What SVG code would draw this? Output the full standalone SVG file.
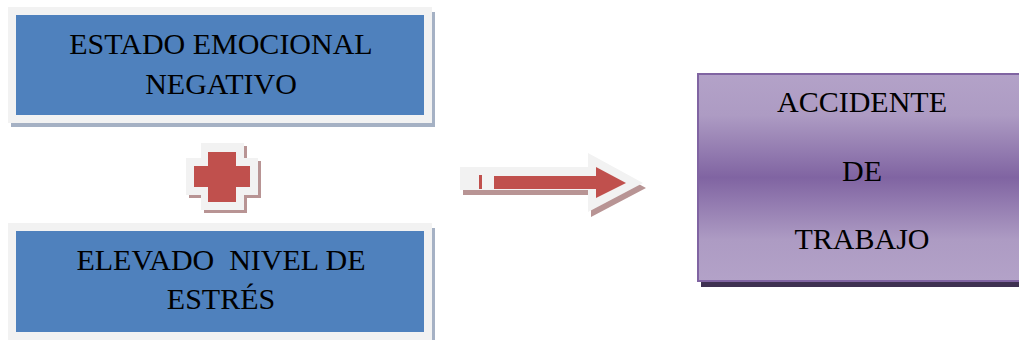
<svg xmlns="http://www.w3.org/2000/svg" width="1019" height="340" viewBox="0 0 1019 340">
<defs>
<linearGradient id="purp" x1="0" y1="0" x2="0" y2="1">
<stop offset="0" stop-color="#b3a2c8"/>
<stop offset="0.2" stop-color="#ad9bc3"/>
<stop offset="0.5" stop-color="#8064a2"/>
<stop offset="0.8" stop-color="#ad9bc3"/>
<stop offset="1" stop-color="#b3a2c8"/>
</linearGradient>
</defs>
<style>
.lbl{font-family:"Liberation Serif","Times New Roman",serif;font-size:30px;fill:#000;text-anchor:middle;white-space:pre}
.frame{fill:#f2f2f2}
.blue{fill:#4f81bd}
.bshadow{fill:#a5b1c4}
.red{fill:#c0504d}
.rshadow{fill:#b89494}
</style>
<g id="estado">
<rect class="bshadow" x="11" y="12" width="424" height="115"/>
<rect class="frame" x="8" y="7" width="424" height="116"/>
<rect class="blue" x="16" y="15" width="408" height="100"/>
<text class="lbl" x="221" y="54">ESTADO EMOCIONAL</text>
<text class="lbl" x="221" y="94">NEGATIVO</text>
</g>
<g id="plus">
<path class="rshadow" d="M204 146H247V161H261V198H247V213H204V198H189V161H204Z"/>
<path class="frame" d="M201 143H244V158H258V195H244V210H201V195H186V158H201Z"/>
<path class="red" d="M208 152H236V166H250V187H236V202H208V187H194V166H208Z"/>
</g>
<g id="estres">
<rect class="bshadow" x="11" y="228" width="424" height="112"/>
<rect class="frame" x="8" y="223" width="424" height="117"/>
<rect class="blue" x="16" y="231" width="408" height="101"/>
<text class="lbl" x="221" y="270" xml:space="preserve">ELEVADO  NIVEL DE</text>
<text class="lbl" x="221" y="309">ESTRÉS</text>
</g>
<g id="connectors">
<path class="rshadow" d="M463 172H591V158L646 188L591 217V195H463Z"/>
<path class="frame" d="M460 167H588V153L643 183L588 212V190H460Z"/>
<rect class="red" x="479" y="175" width="3" height="14"/>
<path class="red" d="M494 176H596V167L626 183L596 198V189H494Z"/>
</g>
<g id="accidente">
<rect x="701" y="77" width="318" height="210" fill="#3f3151"/>
<rect x="698" y="74" width="322" height="207" fill="url(#purp)" stroke="#8064a2" stroke-width="2"/>
<text class="lbl" x="862" y="112">ACCIDENTE</text>
<text class="lbl" x="862" y="181">DE</text>
<text class="lbl" x="862" y="249">TRABAJO</text>
</g>
</svg>
